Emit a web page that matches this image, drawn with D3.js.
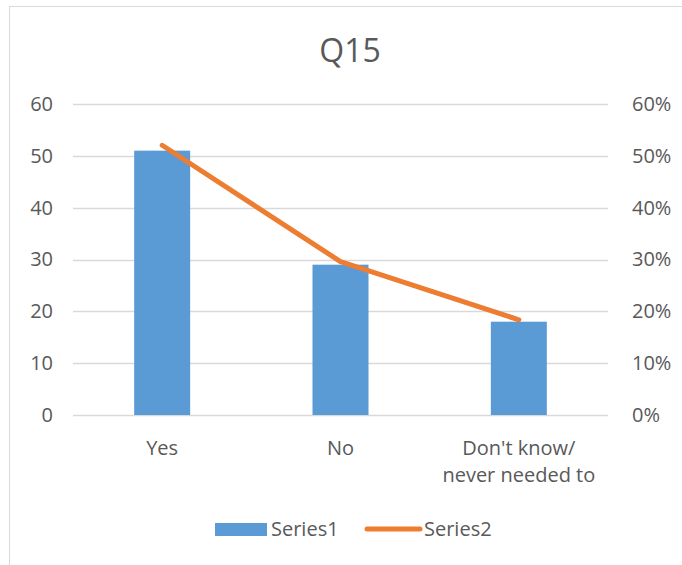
<!DOCTYPE html>
<html>
<head>
<meta charset="utf-8">
<script src="https://cdn.jsdelivr.net/npm/d3@7"></script>
<style>
  body { margin: 0; background: #fff; }
  text { font-family: "Open Sans", Lato, sans-serif; fill: #595959; }
</style>
</head>
<body>
<div id="chart"></div>
<script>
// chart data
var categories = ["Yes", "No", "Don't know/\nnever needed to"];
var series1 = [51, 29, 18];
var series2 = [0.5204, 0.2959, 0.1837];
var leftTicks = [0, 10, 20, 30, 40, 50, 60];
var rightTicks = [0, 0.1, 0.2, 0.3, 0.4, 0.5, 0.6];

var W = 682, H = 565;
var margin = { top: 104, right: 74, bottom: 150, left: 73 },
    width = W - margin.left - margin.right,
    height = H - margin.top - margin.bottom;

var svg = d3.select("#chart").append("svg")
    .attr("width", W)
    .attr("height", H);

// chart frame
svg.append("rect")
    .attr("x", 9.5).attr("y", 6.5)
    .attr("width", W + 10).attr("height", H + 10)
    .attr("fill", "none")
    .attr("stroke", "#d9d9d9");

svg.append("text")
    .attr("x", 350)
    .attr("y", 62)
    .attr("text-anchor", "middle")
    .style("font-size", "32px")
    .text("Q15");

var g = svg.append("g")
    .attr("transform", "translate(" + margin.left + "," + margin.top + ")");

var x = d3.scaleBand()
    .domain(categories)
    .range([0, width])
    .padding(0);

var y = d3.scaleLinear().domain([0, 60]).range([height, 0]);
var y2 = d3.scaleLinear().domain([0, 0.6]).range([height, 0]);

// gridlines
g.selectAll(".grid")
    .data(leftTicks)
    .enter().append("line")
    .attr("x1", 0).attr("x2", width)
    .attr("y1", function (d) { return Math.round(y(d)) + 0.5; })
    .attr("y2", function (d) { return Math.round(y(d)) + 0.5; })
    .attr("stroke", "#d9d9d9")
    .attr("stroke-width", 1.3);

// left axis
var leftAxis = g.append("g")
    .call(d3.axisLeft(y).tickValues(leftTicks).tickSize(0).tickPadding(20));
leftAxis.select(".domain").remove();
leftAxis.selectAll("text").style("font-size", "20px").style("font-family", null);

// right axis
var rightAxis = g.append("g")
    .attr("transform", "translate(" + width + ",0)")
    .call(d3.axisRight(y2).tickValues(rightTicks).tickSize(0).tickPadding(24)
        .tickFormat(d3.format(".0%")));
rightAxis.select(".domain").remove();
rightAxis.selectAll("text").style("font-size", "20px").style("font-family", null);

// bars
var barW = x.bandwidth() * 0.314;
g.selectAll(".bar")
    .data(series1)
    .enter().append("rect")
    .attr("class", "bar")
    .attr("x", function (d, i) { return x(categories[i]) + x.bandwidth() / 2 - barW / 2; })
    .attr("width", barW)
    .attr("y", function (d) { return y(d); })
    .attr("height", function (d) { return height - y(d); })
    .attr("fill", "#5b9bd5");

// line
var line = d3.line()
    .x(function (d, i) { return x(categories[i]) + x.bandwidth() / 2; })
    .y(function (d) { return y2(d); });

g.append("path")
    .datum(series2)
    .attr("d", line)
    .attr("fill", "none")
    .attr("stroke", "#ed7d31")
    .attr("stroke-width", 5)
    .attr("stroke-linecap", "round")
    .attr("stroke-linejoin", "round");

// category labels
var xl = g.append("g").attr("transform", "translate(0," + height + ")");
categories.forEach(function (c, i) {
    var t = xl.append("text")
        .attr("x", x(c) + x.bandwidth() / 2)
        .attr("y", 40)
        .attr("text-anchor", "middle")
        .style("font-size", "20px");
    c.split("\n").forEach(function (s, j) {
        t.append("tspan")
            .attr("x", x(c) + x.bandwidth() / 2)
            .attr("dy", j === 0 ? 0 : 27)
            .text(s);
    });
});

// legend
var lg = svg.append("g").attr("transform", "translate(0,529)");
lg.append("rect")
    .attr("x", 215).attr("y", -6)
    .attr("width", 52).attr("height", 13)
    .attr("fill", "#5b9bd5");
lg.append("text")
    .attr("x", 271).attr("y", 7)
    .style("font-size", "20px")
    .text("Series1");
lg.append("line")
    .attr("x1", 367).attr("x2", 420)
    .attr("y1", 0).attr("y2", 0)
    .attr("stroke", "#ed7d31")
    .attr("stroke-width", 5)
    .attr("stroke-linecap", "round");
lg.append("text")
    .attr("x", 424).attr("y", 7)
    .style("font-size", "20px")
    .text("Series2");
</script>
</body>
</html>
